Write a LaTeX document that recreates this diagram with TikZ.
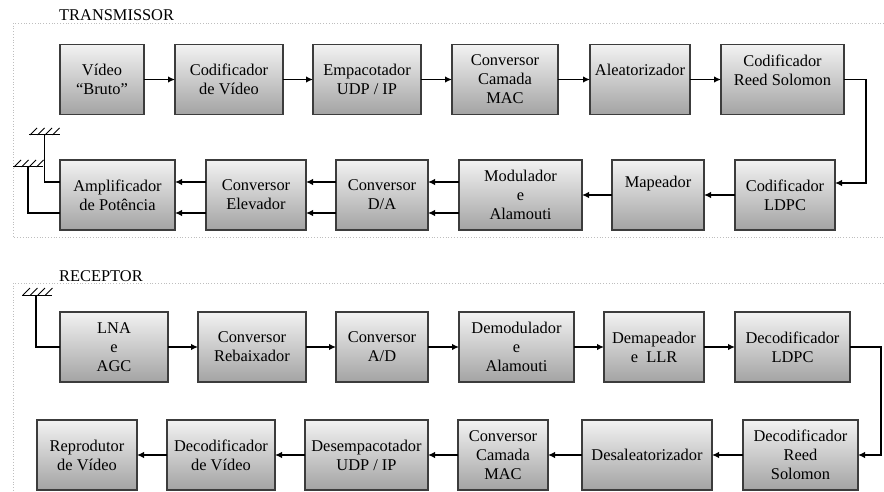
\documentclass[tikz,border=0pt]{standalone}
\usepackage{fontspec}
\setmainfont{Liberation Serif}
\usetikzlibrary{arrows.meta, positioning}
\definecolor{borda}{RGB}{60,60,60}
\definecolor{moldura}{RGB}{190,190,190}
\tikzset{
  block/.style={rectangle, draw=borda, line width=1.1pt,
                top color=black!5, bottom color=black!36, align=center,
                minimum height=70pt, inner sep=2pt, outer sep=0pt,
                font=\fontsize{16.4}{19}\selectfont},
  arrow/.style={-{Latex[length=7pt,width=6.5pt]}, line width=1.4pt, color=black},
  wire/.style={line width=1.4pt, color=black},
  frame/.style={dotted, draw=moldura, line width=0.8pt},
  ground/.style={line width=1pt, color=black},
  raised/.style={text depth=#1},
  title/.style={anchor=base west, inner sep=0pt, font=\fontsize{16.4}{19}\selectfont},
}

\begin{document}
\begin{tikzpicture}[x=1pt, y=-1pt, node distance=31pt]
        \useasboundingbox (0,0) rectangle (884,492);
        \draw[frame] (884,23) -- (13,23) -- (13,237) -- (884,237);
        \draw[frame] (884,283) -- (13,283) -- (13,492);
        \node[title] (tx) at (59,21) {TRANSMISSOR};
        \node[title] (rx) at (59,281) {RECEPTOR};
        % transmissor
        \node[block, minimum width=84pt] (vid) at (102,79.5) {Vídeo\\“Bruto”};
        \node[block, minimum width=108pt, right=of vid] (codv) {Codificador\\de Vídeo};
        \node[block, minimum width=108pt, right=30pt of codv] (emp) {Empacotador\\UDP / IP};
        \node[block, minimum width=106pt, right=of emp] (mac) {Conversor\\Camada\\MAC};
        \node[block, raised=20pt, minimum width=100pt, right=32pt of mac] (alea) {Aleatorizador};
        \node[block, raised=18pt, minimum width=123pt, right=of alea] (rs) {Codificador\\Reed Solomon};
        \node[block, minimum width=115pt] (amp) at (117.5,195) {Amplificador\\de Potência};
        \node[block, minimum width=100pt, right=of amp] (elev) {Conversor\\Elevador};
        \node[block, minimum width=92pt, right=30pt of elev] (da) {Conversor\\D/A};
        \node[block, minimum width=123pt, right=of da] (mod) {Modulador\\e\\Alamouti};
        \node[block, raised=27pt, minimum width=92pt, right=30pt of mod] (map) {Mapeador};
        \node[block, minimum width=100pt, right=of map] (ldpc) {Codificador\\LDPC};
        \draw[arrow] (vid) -- (codv);
        \draw[arrow] (codv) -- (emp);
        \draw[arrow] (emp) -- (mac);
        \draw[arrow] (mac) -- (alea);
        \draw[arrow] (alea) -- (rs);
        \draw[arrow] (rs.east) -- ++(22,0) |- ([yshift=12pt]ldpc.east);
        \draw[arrow] (ldpc) -- (map);
        \draw[arrow] (map) -- (mod);
        \foreach \dy in {13pt,-18pt} {
          \draw[arrow] ([yshift=\dy]mod.west) -- ([yshift=\dy]da.east);
          \draw[arrow] ([yshift=\dy]da.west) -- ([yshift=\dy]elev.east);
          \draw[arrow] ([yshift=\dy]elev.west) -- ([yshift=\dy]amp.east);
        }
        \coordinate (ant1) at (44.5,135);
        \coordinate (ant2) at (28,167);
        \draw[ground] (29,135) -- (60,135);
        \draw[ground] (13,167) -- (43,167);
        \foreach \i in {0,...,3} {
          \draw[ground] (30+7.5*\i,135) -- ++(7,-7);
          \draw[ground] (14+7.5*\i,167) -- ++(7,-7);
        }
        \draw[wire] (ant1) |- ([yshift=13pt]amp.west);
        \draw[wire] (ant2) |- ([yshift=-18pt]amp.west);
        % receptor
        \node[block, minimum width=108pt] (lna) at (114,347) {LNA\\e\\AGC};
        \node[block, minimum width=108pt, right=30pt of lna] (reb) {Conversor\\Rebaixador};
        \node[block, minimum width=92pt, right=30pt of reb] (ad) {Conversor\\A/D};
        \node[block, minimum width=115pt, right=of ad] (demod) {Demodulador\\e\\Alamouti};
        \node[block, minimum width=100pt, right=30pt of demod] (demap) {Demapeador\\e\ \ LLR};
        \node[block, minimum width=115pt, right=of demap] (dldpc) {Decodificador\\LDPC};
        \node[block, minimum width=100pt] (rep) at (87,455) {Reprodutor\\de Vídeo};
        \node[block, minimum width=108pt, right=30pt of rep] (dvid) {Decodificador\\de Vídeo};
        \node[block, minimum width=123pt, right=30pt of dvid] (demp) {Desempacotador\\UDP / IP};
        \node[block, minimum width=90pt, right=30pt of demp] (dmac) {Conversor\\Camada\\MAC};
        \node[block, minimum width=130pt, right=34pt of dmac] (desal) {Desaleatorizador};
        \node[block, minimum width=115pt, right=of desal] (drs) {Decodificador\\Reed\\Solomon};
        \coordinate (ant3) at (36,295);
        \draw[ground] (22,295) -- (52,295);
        \foreach \i in {0,...,3}
          \draw[ground] (23+7.5*\i,295) -- ++(7,-7);
        \draw[wire] (ant3) |- (lna.west);
        \draw[arrow] (lna) -- (reb);
        \draw[arrow] (reb) -- (ad);
        \draw[arrow] (ad) -- (demod);
        \draw[arrow] (demod) -- (demap);
        \draw[arrow] (demap) -- (dldpc);
        \draw[arrow] (dldpc.east) -- ++(31,0) |- (drs.east);
        \draw[arrow] (drs) -- (desal);
        \draw[arrow] (desal) -- (dmac);
        \draw[arrow] (dmac) -- (demp);
        \draw[arrow] (demp) -- (dvid);
        \draw[arrow] (dvid) -- (rep);
      \end{tikzpicture}
\end{document}
